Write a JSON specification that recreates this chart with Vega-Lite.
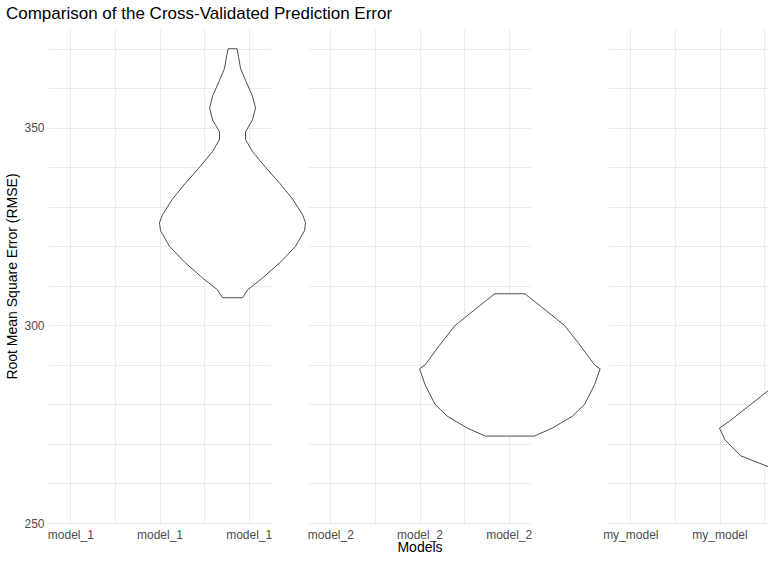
{
  "$schema": "https://vega.github.io/schema/vega-lite/v6.json",
  "title": {"text": "Comparison of the Cross-Validated Prediction Error", "anchor": "start", "fontSize": 17, "fontWeight": "normal", "font": "Liberation Sans", "color": "#000", "offset": 6},
  "config": {
    "view": {"stroke": null}, "font": "Liberation Sans", "background": "white",
    "axisY": {"values": [250, 262.5, 275, 287.5, 300, 312.5, 325, 337.5, 350, 362.5, 375], "domain": false, "ticks": false, "gridColor": "#ebebeb", "labelColor": "#4d4d4d", "labelFontSize": 12, "titleFontSize": 14, "titleFontWeight": "normal", "labelPadding": 4},
    "axisX": {"values": [0], "ticks": false, "domain": false, "gridColor": "#ebebeb", "labelColor": "#4d4d4d", "labelFontSize": 12, "titleFontSize": 14, "titleFontWeight": "normal", "labelPadding": 6, "titleColor": "#000"},
    "area": {"orient": "horizontal", "fill": "white", "stroke": "black", "strokeWidth": 0.7}
  },
  "spacing": 0,
  "data": {"values": [
    {"model": "model_1", "rmse": 370, "w": 0.04},
    {"model": "model_1", "rmse": 368, "w": 0.054},
    {"model": "model_1", "rmse": 365, "w": 0.072},
    {"model": "model_1", "rmse": 362, "w": 0.117},
    {"model": "model_1", "rmse": 358, "w": 0.179},
    {"model": "model_1", "rmse": 355, "w": 0.206},
    {"model": "model_1", "rmse": 352, "w": 0.179},
    {"model": "model_1", "rmse": 349, "w": 0.117},
    {"model": "model_1", "rmse": 347, "w": 0.117},
    {"model": "model_1", "rmse": 344, "w": 0.179},
    {"model": "model_1", "rmse": 340, "w": 0.296},
    {"model": "model_1", "rmse": 336, "w": 0.422},
    {"model": "model_1", "rmse": 332, "w": 0.538},
    {"model": "model_1", "rmse": 328, "w": 0.628},
    {"model": "model_1", "rmse": 326, "w": 0.655},
    {"model": "model_1", "rmse": 324, "w": 0.646},
    {"model": "model_1", "rmse": 320, "w": 0.565},
    {"model": "model_1", "rmse": 316, "w": 0.43},
    {"model": "model_1", "rmse": 312, "w": 0.269},
    {"model": "model_1", "rmse": 309, "w": 0.135},
    {"model": "model_1", "rmse": 307, "w": 0.09},
    {"model": "model_2", "rmse": 308, "w": 0.135},
    {"model": "model_2", "rmse": 305, "w": 0.27},
    {"model": "model_2", "rmse": 300, "w": 0.49},
    {"model": "model_2", "rmse": 295, "w": 0.63},
    {"model": "model_2", "rmse": 290, "w": 0.76},
    {"model": "model_2", "rmse": 289, "w": 0.81},
    {"model": "model_2", "rmse": 285, "w": 0.76},
    {"model": "model_2", "rmse": 280, "w": 0.67},
    {"model": "model_2", "rmse": 277, "w": 0.56},
    {"model": "model_2", "rmse": 274, "w": 0.38},
    {"model": "model_2", "rmse": 272, "w": 0.22},
    {"model": "my_model", "rmse": 292, "w": 0.108},
    {"model": "my_model", "rmse": 288, "w": 0.22},
    {"model": "my_model", "rmse": 284, "w": 0.4},
    {"model": "my_model", "rmse": 280, "w": 0.58},
    {"model": "my_model", "rmse": 276, "w": 0.76},
    {"model": "my_model", "rmse": 274, "w": 0.86},
    {"model": "my_model", "rmse": 271, "w": 0.81},
    {"model": "my_model", "rmse": 267, "w": 0.67},
    {"model": "my_model", "rmse": 264, "w": 0.4},
    {"model": "my_model", "rmse": 261, "w": 0.22},
    {"model": "my_model", "rmse": 258, "w": 0.108},
    {"model": "my_model", "rmse": 256, "w": 0.07}
  ]},
  "hconcat": [
    {
      "width": 223, "height": 494,
      "transform": [{"filter": "datum.model == 'model_1'"}],
      "mark": "area",
      "encoding": {
        "y": {"field": "rmse", "type": "quantitative", "scale": {"domain": [250, 375], "nice": false, "zero": false}, "title": "Root Mean Square Error (RMSE)", "axis": {"labelExpr": "datum.value % 25 == 0 ? datum.label : ''"}},
        "x": {"field": "w", "type": "quantitative", "stack": "center", "scale": {"domain": [-0.5, 0.5]}, "title": null, "axis": {"labelExpr": "'model_1'"}}
      }
    },
    {
      "width": 223, "height": 494,
      "transform": [{"filter": "datum.model == 'model_2'"}],
      "mark": "area",
      "encoding": {
        "y": {"field": "rmse", "type": "quantitative", "scale": {"domain": [250, 375], "nice": false, "zero": false}, "title": null, "axis": {"labels": false}},
        "x": {"field": "w", "type": "quantitative", "stack": "center", "scale": {"domain": [-0.5, 0.5]}, "title": "Models", "axis": {"labelExpr": "'model_2'", "titlePadding": 0}}
      }
    },
    {
      "width": 223, "height": 494,
      "transform": [{"filter": "datum.model == 'my_model'"}],
      "mark": "area",
      "encoding": {
        "y": {"field": "rmse", "type": "quantitative", "scale": {"domain": [250, 375], "nice": false, "zero": false}, "title": null, "axis": {"labels": false}},
        "x": {"field": "w", "type": "quantitative", "stack": "center", "scale": {"domain": [-0.5, 0.5]}, "title": null, "axis": {"labelExpr": "'my_model'"}}
      }
    }
  ]
}
